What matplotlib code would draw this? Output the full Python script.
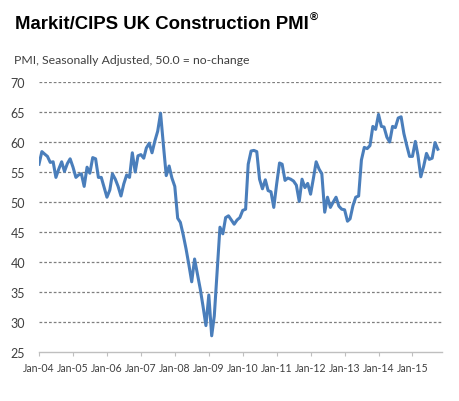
import matplotlib
matplotlib.use("Agg")
import matplotlib.pyplot as plt
import numpy as np
import pandas as pd

# monthly PMI values, Jan-04 .. Oct-15
pmi_2004 = [56.3, 58.4, 58.0, 57.6, 56.6, 56.7, 54.1, 55.5, 56.7, 55.1, 56.4, 57.2]
pmi_2005 = [55.8, 54.1, 54.5, 54.7, 52.6, 55.8, 54.8, 57.4, 57.2, 54.1, 54.1, 52.5]
pmi_2006 = [50.8, 52.0, 54.7, 53.8, 52.6, 51.0, 53.0, 54.5, 54.1, 58.2, 55.0, 57.7]
pmi_2007 = [57.9, 57.3, 59.0, 59.8, 58.2, 60.2, 61.8, 64.8, 59.4, 54.4, 56.0, 54.0]
pmi_2008 = [52.6, 47.3, 46.6, 44.5, 42.2, 39.5, 36.7, 40.5, 38.0, 35.5, 32.5, 29.4]
pmi_2009 = [34.5, 27.7, 31.0, 38.5, 45.8, 44.7, 47.4, 47.7, 47.0, 46.3, 47.0, 47.4]
pmi_2010 = [48.6, 48.8, 56.3, 58.5, 58.6, 58.4, 53.8, 52.2, 53.7, 51.9, 51.7, 49.1]
pmi_2011 = [53.0, 56.5, 56.3, 53.6, 54.0, 53.8, 53.5, 52.8, 50.1, 53.8, 52.4, 53.1]
pmi_2012 = [51.3, 54.0, 56.7, 55.5, 54.7, 48.3, 50.8, 49.1, 50.0, 50.8, 49.3, 48.8]
pmi_2013 = [48.7, 46.8, 47.2, 49.4, 50.8, 51.0, 57.0, 59.1, 58.9, 59.4, 62.6, 62.1]
pmi_2014 = [64.6, 62.6, 62.5, 60.8, 60.0, 62.6, 62.4, 64.0, 64.2, 61.4, 59.4, 57.6]
pmi_2015 = [57.6, 60.1, 57.8, 54.2, 55.9, 58.1, 57.1, 57.3, 59.9, 58.8]

years = list(range(2004, 2016))
tick_labels = ["Jan-%02d" % (y % 100) for y in years]

values = (pmi_2004 + pmi_2005 + pmi_2006 + pmi_2007 + pmi_2008 + pmi_2009 +
          pmi_2010 + pmi_2011 + pmi_2012 + pmi_2013 + pmi_2014 + pmi_2015)
dates = pd.date_range("2004-01-01", periods=len(values), freq="MS")

text_col = "#404040"

fig = plt.figure(figsize=(4.6, 4.02), dpi=100)
ax = fig.add_axes([39 / 460, 1 - 353 / 402, 403 / 460, 270 / 402])

ax.plot(dates, values, color="#4a7ebb", linewidth=2.2, solid_joinstyle="round")

ax.set_ylim(25, 70)
ax.set_yticks(range(25, 71, 5))
ax.set_xlim(pd.Timestamp("2004-01-01"), pd.Timestamp("2015-11-15"))
ax.set_xticks([pd.Timestamp("%d-01-01" % y) for y in years])
ax.set_xticklabels(tick_labels)

for v in range(30, 71, 5):
    ax.axhline(v, color="#7f7f7f", linewidth=0.9, linestyle=(0, (2.2, 1.6)), zorder=0)

for s in ["top", "right", "left"]:
    ax.spines[s].set_visible(False)
ax.spines["bottom"].set_color("#bfbfbf")
ax.spines["bottom"].set_linewidth(1.0)

ax.tick_params(axis="y", length=0, pad=10, labelsize=9, labelcolor=text_col)
ax.tick_params(axis="x", length=3, direction="out", color="#bfbfbf", pad=4,
               labelsize=7.6, labelcolor=text_col)
for lab in ax.get_xticklabels() + ax.get_yticklabels():
    lab.set_family("Lato")

fig.text(15 / 460, 1 - 29 / 402, "Markit/CIPS UK Construction PMI",
         fontsize=13.4, fontweight="bold", family="Liberation Sans",
         color="black", va="baseline", ha="left")
fig.text(310 / 460, 1 - 21 / 402, "\u00ae", fontsize=8, fontweight="bold",
         family="Liberation Sans", color="black", va="baseline", ha="left")
fig.text(14 / 460, 1 - 64 / 402, "PMI, Seasonally Adjusted, 50.0 = no-change",
         fontsize=8.8, family="Lato", color=text_col, va="baseline", ha="left")

fig.savefig("out.png", dpi=100)
